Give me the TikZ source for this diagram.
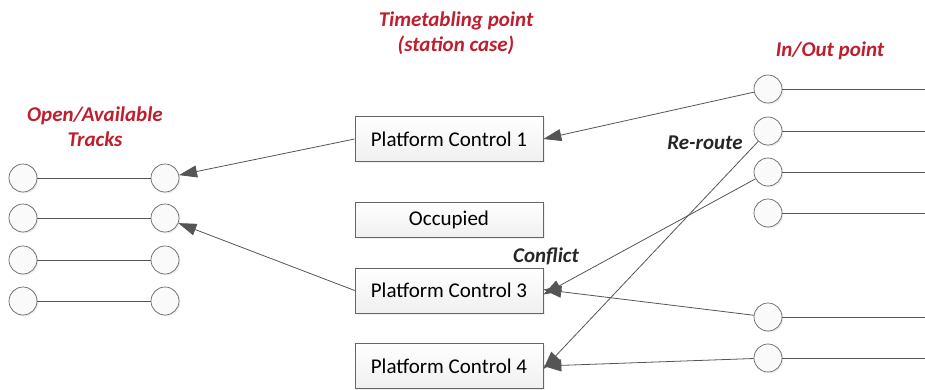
\documentclass[tikz,border=0pt]{standalone}
\usepackage{fontspec}
\setmainfont{Carlito}
\usetikzlibrary{arrows.meta,shadows}
\definecolor{lblred}{RGB}{190,30,45}
\definecolor{edge}{RGB}{85,85,85}
\tikzset{
  pt/.style={circle,draw=gray!80!black,line width=0.7pt,fill=gray!4,minimum size=28pt,inner sep=0pt,
    drop shadow={shadow xshift=1.5pt,shadow yshift=-1.5pt,fill=gray!25}},
  box/.style={draw=gray!80!black,line width=0.7pt,top color=white,bottom color=gray!12,minimum width=188pt,
    minimum height=45pt,inner sep=0pt,font=\fontsize{21}{24}\selectfont,
    drop shadow={shadow xshift=1.5pt,shadow yshift=-1.5pt,fill=gray!25}},
  trk/.style={draw=edge,line width=0.9pt},
  con/.style={draw=edge,line width=0.8pt,-{Triangle[length=18pt,width=12pt]}},
  lbl/.style={text=lblred,font=\fontsize{21}{25}\selectfont\bfseries\itshape,align=center},
  blbl/.style={text=black!85,font=\fontsize{21}{24}\selectfont\bfseries\itshape}
}
\begin{document}
\begin{tikzpicture}[x=1pt,y=-1pt]
\useasboundingbox (0,0) rectangle (925,389);
% left tracks
\foreach \i/\y in {1/178,2/218,3/260,4/301}{
  \node[pt] (la\i) at (23,\y) {};
  \node[pt] (lb\i) at (165,\y) {};
  \draw[trk] (la\i) -- (lb\i);
}
% right points
\foreach \i/\y in {1/89,2/131,3/172,4/213,5/317,6/358}{
  \node[pt] (r\i) at (768,\y) {};
  \coordinate (re\i) at (925,\y);
  \draw[trk] (r\i) -- (re\i);
}
% boxes
\node[box] (pc1) at (449,139) {Platform Control 1};
\node[box,minimum height=35pt] (occ) at (449,220) {Occupied};
\node[box] (pc3) at (449,290.5) {Platform Control 3};
\node[box] (pc4) at (449,366) {Platform Control 4};
% connectors
\draw[con] (r1) -- (pc1.east);
\draw[con] (pc1.west) -- (lb1);
\draw[con] (pc3.west) -- (lb2);
\draw[con] (r3) -- ([yshift=-4pt]pc3.east);
\draw[con] (r5) -- ([yshift=1pt]pc3.east);
\draw[con] (r2) -- ([yshift=-3pt]pc4.east);
\draw[con] (r6) -- (pc4.east);
% labels
\node[lbl] (tt) at (456,33) {Timetabling point\\(station case)};
\node[lbl] (io) at (830,51) {In/Out point};
\node[lbl] (oa) at (95,127) {Open/Available\\Tracks};
\node[blbl] (rr) at (705,143) {Re-route};
\node[blbl] (cf) at (546,256) {Conflict};
\end{tikzpicture}
\end{document}
